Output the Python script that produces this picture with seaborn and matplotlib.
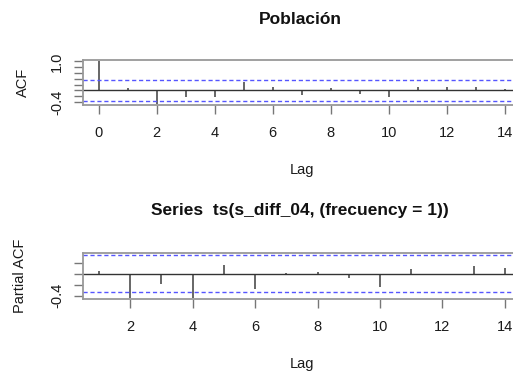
import numpy as np
import matplotlib
matplotlib.use("Agg")
import matplotlib.pyplot as plt
import seaborn as sns

# ACF of "Población" (lags 0..14)
acf_lags = list(range(0, 15))
acf_vals = [1.0, 0.07, -0.45, -0.23, -0.21, 0.28, 0.13, -0.15, 0.08, -0.13,
            -0.21, 0.13, 0.13, 0.13, 0.05]
acf_clim = 0.37

# PACF of s_diff_04 (lags 1..14)
pacf_lags = list(range(1, 15))
pacf_vals = [0.055, -0.44, -0.18, -0.44, 0.16, -0.28, 0.01, 0.03, -0.07,
             -0.24, 0.08, -0.01, 0.14, 0.10]
pacf_clim = 0.335

acf_yticks = [-0.4, -0.2, 0.0, 0.2, 0.4, 0.6, 0.8, 1.0]
acf_ylabels = ["-0.4", "", "", "", "", "", "", "1.0"]
pacf_yticks = [-0.4, -0.2, 0.0, 0.2]
pacf_ylabels = ["-0.4", "", "", ""]
xticks_top = [0, 2, 4, 6, 8, 10, 12, 14]
xticks_bot = [2, 4, 6, 8, 10, 12, 14]

sns.set_style("white")
plt.rcParams['font.family'] = ['Liberation Sans', 'DejaVu Sans']

W, H = 513, 371
fig = plt.figure(figsize=(W / 100, H / 100), dpi=100)

left = 82.7 / W
width = 438.5 / W
ax1 = fig.add_axes([left, 1 - 105 / H, width, 45 / H])
ax2 = fig.add_axes([left, 1 - 299.3 / H, width, 46.6 / H])


def draw(ax, lags, vals, clim, ylim, xlim, yticks, ylabels, xticks, ylabel, title, tx, ty):
    ax.vlines(lags, 0, vals, color="#666666", lw=1.4)
    ax.axhline(0, color="#333333", lw=1.0)
    ax.axhline(clim, color="#5555ff", lw=1.0, ls=(0, (3, 2)))
    ax.axhline(-clim, color="#5555ff", lw=1.0, ls=(0, (3, 2)))
    ax.set_xlim(*xlim)
    ax.set_ylim(*ylim)
    ax.set_yticks(yticks)
    ax.set_yticklabels(ylabels, rotation=90, va="center")
    ax.set_xticks(xticks)
    ax.set_xticklabels([str(t) for t in xticks])
    ax.tick_params(axis="both", direction="out", length=6.5, width=1.0,
                   color="#777777", labelsize=10.5, labelcolor="#1a1a1a",
                   left=True, bottom=True)
    ax.tick_params(axis="x", pad=8.5)
    ax.tick_params(axis="y", pad=7)
    for s in ax.spines.values():
        s.set_color("#999999")
        s.set_linewidth(1.3)
    h = ax.get_position().height * H
    ax.set_xlabel("Lag", fontsize=10.5, color="#1a1a1a")
    ax.xaxis.set_label_coords((301.7 - 82.7) / 438.5, -65 / h)
    ax.xaxis.label.set_va("center")
    ax.set_ylabel(ylabel, fontsize=10.5, color="#1a1a1a")
    ax.yaxis.set_label_coords((tx - 82.7) / 438.5, 0.5)
    ax.yaxis.label.set_va("center")
    ax.text((300 - 82.7) / 438.5, 1 + ty / h, title,
            transform=ax.transAxes, ha="center", va="center",
            fontsize=12.5, fontweight="bold", color="#111111")


draw(ax1, acf_lags, acf_vals, acf_clim, (-0.5, 1.05), (-0.55, 14.57),
     acf_yticks, acf_ylabels, xticks_top, "ACF", "Población", 23, 41)
draw(ax2, pacf_lags, pacf_vals, pacf_clim, (-0.465, 0.38), (0.48, 14.52),
     pacf_yticks, pacf_ylabels, xticks_bot, "Partial ACF",
     "Series  ts(s_diff_04, (frecuency = 1))", 20, 42.5)

fig.savefig("out.png", dpi=100)
